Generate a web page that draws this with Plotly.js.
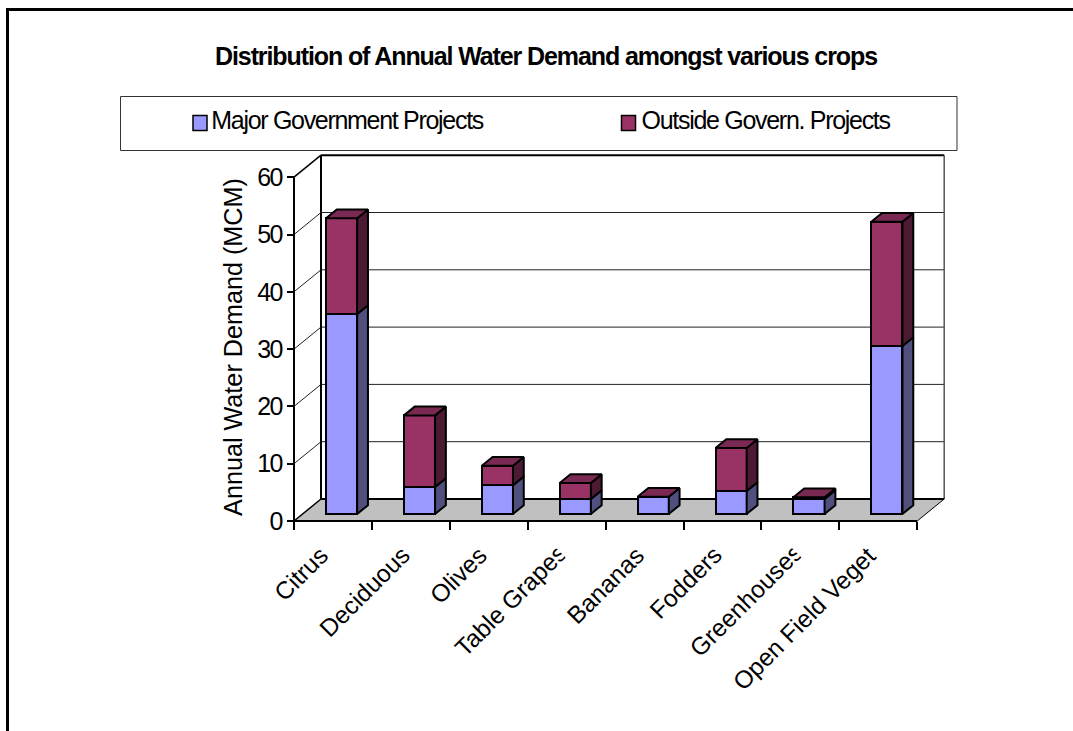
<!DOCTYPE html>
<html><head><meta charset="utf-8">
<script src="https://cdn.plot.ly/plotly-3.0.1.min.js"></script>
<style>html,body{margin:0;padding:0;background:#fff}#c{width:1073px;height:731px}
.gtitle{letter-spacing:-1.1px}
.annotation[data-index="8"] text,.annotation[data-index="9"] text{letter-spacing:-1.3px}
.ytick text{letter-spacing:-1.5px}
</style>
</head><body><div id="c"></div>
<script>
const categories = ["Citrus","Deciduous","Olives","Table Grapes","Bananas","Fodders","Greenhouses","Open Field Vegetables"];
const majorGov = [34.9,4.7,5.0,2.6,3.0,4.0,2.6,29.3];
const outsideGov = [16.7,12.5,3.4,2.8,0,7.5,0.3,21.7];
const yTicks = [0,10,20,30,40,50,60];
const xEdges = [0,1,2,3,4,5,6,7,8];
const labelWidths = [null,null,null,142,null,null,143,190];
const labelNudgePx = [0,4,2,2,4,4,4,2];
const seriesNames = ["Major Government Projects","Outside Govern. Projects"];

const FONT = "Liberation Sans, Arial, sans-serif";
const px0 = 294, pxU = 77.9, py0 = 521, pyU = 5.73, depthX = 27, depthY = 22;
const plotL = 284, plotR = 955, plotT = 150, plotB = 544;
const fx = p => (p - plotL) / (plotR - plotL);
const fy = p => (plotB - p) / (plotB - plotT);
const dxD = depthX / pxU, dyD = depthY / pyU;
const xMax = 8, yMax = 60;
const barFront = 0.32, barBack = 0.72, barW = 0.4;

const P = (x, y, d) => [x + d * dxD, y + d * dyD];

function face(list, fn) {
  const X = [], Y = [];
  list.forEach((it, i) => {
    fn(it, i).forEach(p => { X.push(p[0]); Y.push(p[1]); });
    X.push(null); Y.push(null);
  });
  return {x: X, y: Y};
}
const centers = categories.map((_, i) => i + 0.5);
const sideFace = (lo, hi, i) => {
  const r = centers[i] + barW / 2;
  const a = P(r, lo, barFront), b = P(r, lo, barBack), c = P(r, hi, barBack), d = P(r, hi, barFront);
  return [a, b, c, d, a];
};
const topFace = (h, i) => {
  const l = centers[i] - barW / 2, r = centers[i] + barW / 2;
  const a = P(l, h, barFront), b = P(l, h, barBack), c = P(r, h, barBack), d = P(r, h, barFront);
  return [a, b, c, d, a];
};
const totals = majorGov.map((v, i) => v + outsideGov[i]);
const poly = (f, color) => ({
  type: "scatter", mode: "lines", x: f.x, y: f.y, fill: "toself", fillcolor: color,
  line: {color: "#000", width: 2}, showlegend: false, hoverinfo: "skip", connectgaps: false
});
const barX = centers.map(c => c + barFront * dxD);
const barBase = barFront * dyD;
const traces = [
  {type: "bar", name: seriesNames[0], x: barX, y: majorGov, base: majorGov.map(() => barBase), width: barW,
   marker: {color: "#9999FF", line: {color: "#000", width: 2}}, showlegend: false},
  {type: "bar", name: seriesNames[1], x: barX, y: outsideGov, base: majorGov.map(v => barBase + v), width: barW,
   marker: {color: "#993366", line: {color: "#000", width: 2}}, showlegend: false},
  poly(face(majorGov, (v, i) => sideFace(0, v, i)), "#50507F"),
  poly(face(totals, (v, i) => sideFace(majorGov[i], v, i)), "#4D1A33"),
  poly(face(totals, (v, i) => topFace(v, i)), "#7A2952")
];

const seg = (p, q, color, width, layer) => ({type: "line", xref: "x", yref: "y", x0: p[0], y0: p[1], x1: q[0], y1: q[1],
  line: {color, width}, layer: layer || "below"});
const A = P(0, 0, 0), B = P(xMax, 0, 0), C = P(xMax, 0, 1), D = P(0, 0, 1);
const shapes = [
  {type: "path", xref: "x", yref: "y", layer: "below", fillcolor: "#C0C0C0", line: {width: 0},
   path: `M${A}L${B}L${C}L${D}Z`.replace(/,/g, " ")}
];
yTicks.slice(1, -1).forEach(t => {
  shapes.push(seg(P(0, t, 0), P(0, t, 1), "#222", 1));
  shapes.push(seg(P(0, t, 1), P(xMax, t, 1), "#222", 1));
});
shapes.push(
  seg(P(0, yMax, 0), P(0, yMax, 1), "#000", 1.5),
  seg(P(0, yMax, 1), P(xMax, yMax, 1), "#000", 2),
  seg(P(0, 0, 1), P(0, yMax, 1), "#000", 2),
  seg(P(xMax, 0, 1), P(xMax, yMax, 1), "#555", 1.5),
  seg(D, C, "#000", 2),
  seg(A, D, "#000", 1.5),
  seg(B, C, "#000", 1),
  seg(A, B, "#000", 2),
  seg(A, P(0, yMax, 0), "#000", 2)
);
const pline = (x0, y0, x1, y1, w, c) => ({type: "line", xref: "paper", yref: "paper", x0: fx(x0), x1: fx(x1),
  y0: fy(y0), y1: fy(y1), line: {color: c, width: w}});
shapes.push(pline(7.5, 9.5, 1073, 9.5, 3, "#000"), pline(7.5, 8, 7.5, 731, 3, "#000"));
shapes.push({type: "rect", xref: "paper", yref: "paper", x0: fx(120.5), x1: fx(957), y0: fy(96.5), y1: fy(150.5),
  line: {color: "#333", width: 1}, fillcolor: "rgba(0,0,0,0)"});
const swatch = (x, color) => ({type: "rect", xref: "paper", yref: "paper", x0: fx(x), x1: fx(x + 14),
  y0: fy(115.5), y1: fy(130.5), fillcolor: color, line: {color: "#000", width: 1.5}});
shapes.push(swatch(193, "#9999FF"), swatch(621.5, "#993366"));

const annotations = categories.map((c, i) => {
  const a = {text: c, xref: "x", yref: "paper", x: centers[i] + (2 + labelNudgePx[i]) / pxU, y: fy(540), xanchor: "right", yanchor: "top",
    textangle: -45, showarrow: false, align: "left", borderpad: 0, font: {family: FONT, size: 24.5, color: "#000"}};
  if (labelWidths[i]) a.width = labelWidths[i];
  return a;
});
const legText = (t, x) => ({text: t, xref: "paper", yref: "paper", x: fx(x), y: fy(120), xanchor: "left", yanchor: "middle",
  showarrow: false, borderpad: 0, font: {family: FONT, size: 25, color: "#000"}});
annotations.push(legText(seriesNames[0], 193.5), legText(seriesNames[1], 624.5));

const layout = {
  width: 1073, height: 731, paper_bgcolor: "#fff", plot_bgcolor: "rgba(0,0,0,0)",
  margin: {l: plotL, r: 1073 - plotR, t: plotT, b: 731 - plotB, pad: 0},
  title: {text: "<b>Distribution of Annual Water Demand amongst various crops</b>", x: 546 / 1073, xanchor: "center",
    y: 1 - 56 / 731, yanchor: "middle", font: {family: FONT, size: 25, color: "#000"}},
  showlegend: false, barmode: "overlay", bargap: 0,
  xaxis: {range: [(plotL - px0) / pxU, (plotR - px0) / pxU], anchor: "free", position: fy(py0),
    tickmode: "array", tickvals: xEdges, showticklabels: false, ticks: "outside", ticklen: 8, tickwidth: 1.5, tickcolor: "#000",
    showgrid: false, zeroline: false, showline: false, fixedrange: true},
  yaxis: {range: [(py0 - plotB) / pyU, (py0 - plotT) / pyU], anchor: "free", position: fx(px0),
    tickmode: "array", tickvals: yTicks, ticks: "outside", ticklen: 7, tickwidth: 1.5, tickcolor: "#000",
    tickfont: {family: FONT, size: 25, color: "#000"},
    title: {text: "Annual Water Demand (MCM)", standoff: 6, font: {family: FONT, size: 25.2, color: "#000"}},
    showgrid: false, zeroline: false, showline: false, fixedrange: true},
  shapes, annotations
};
Plotly.newPlot("c", traces, layout, {displayModeBar: false, responsive: false});
</script></body></html>
